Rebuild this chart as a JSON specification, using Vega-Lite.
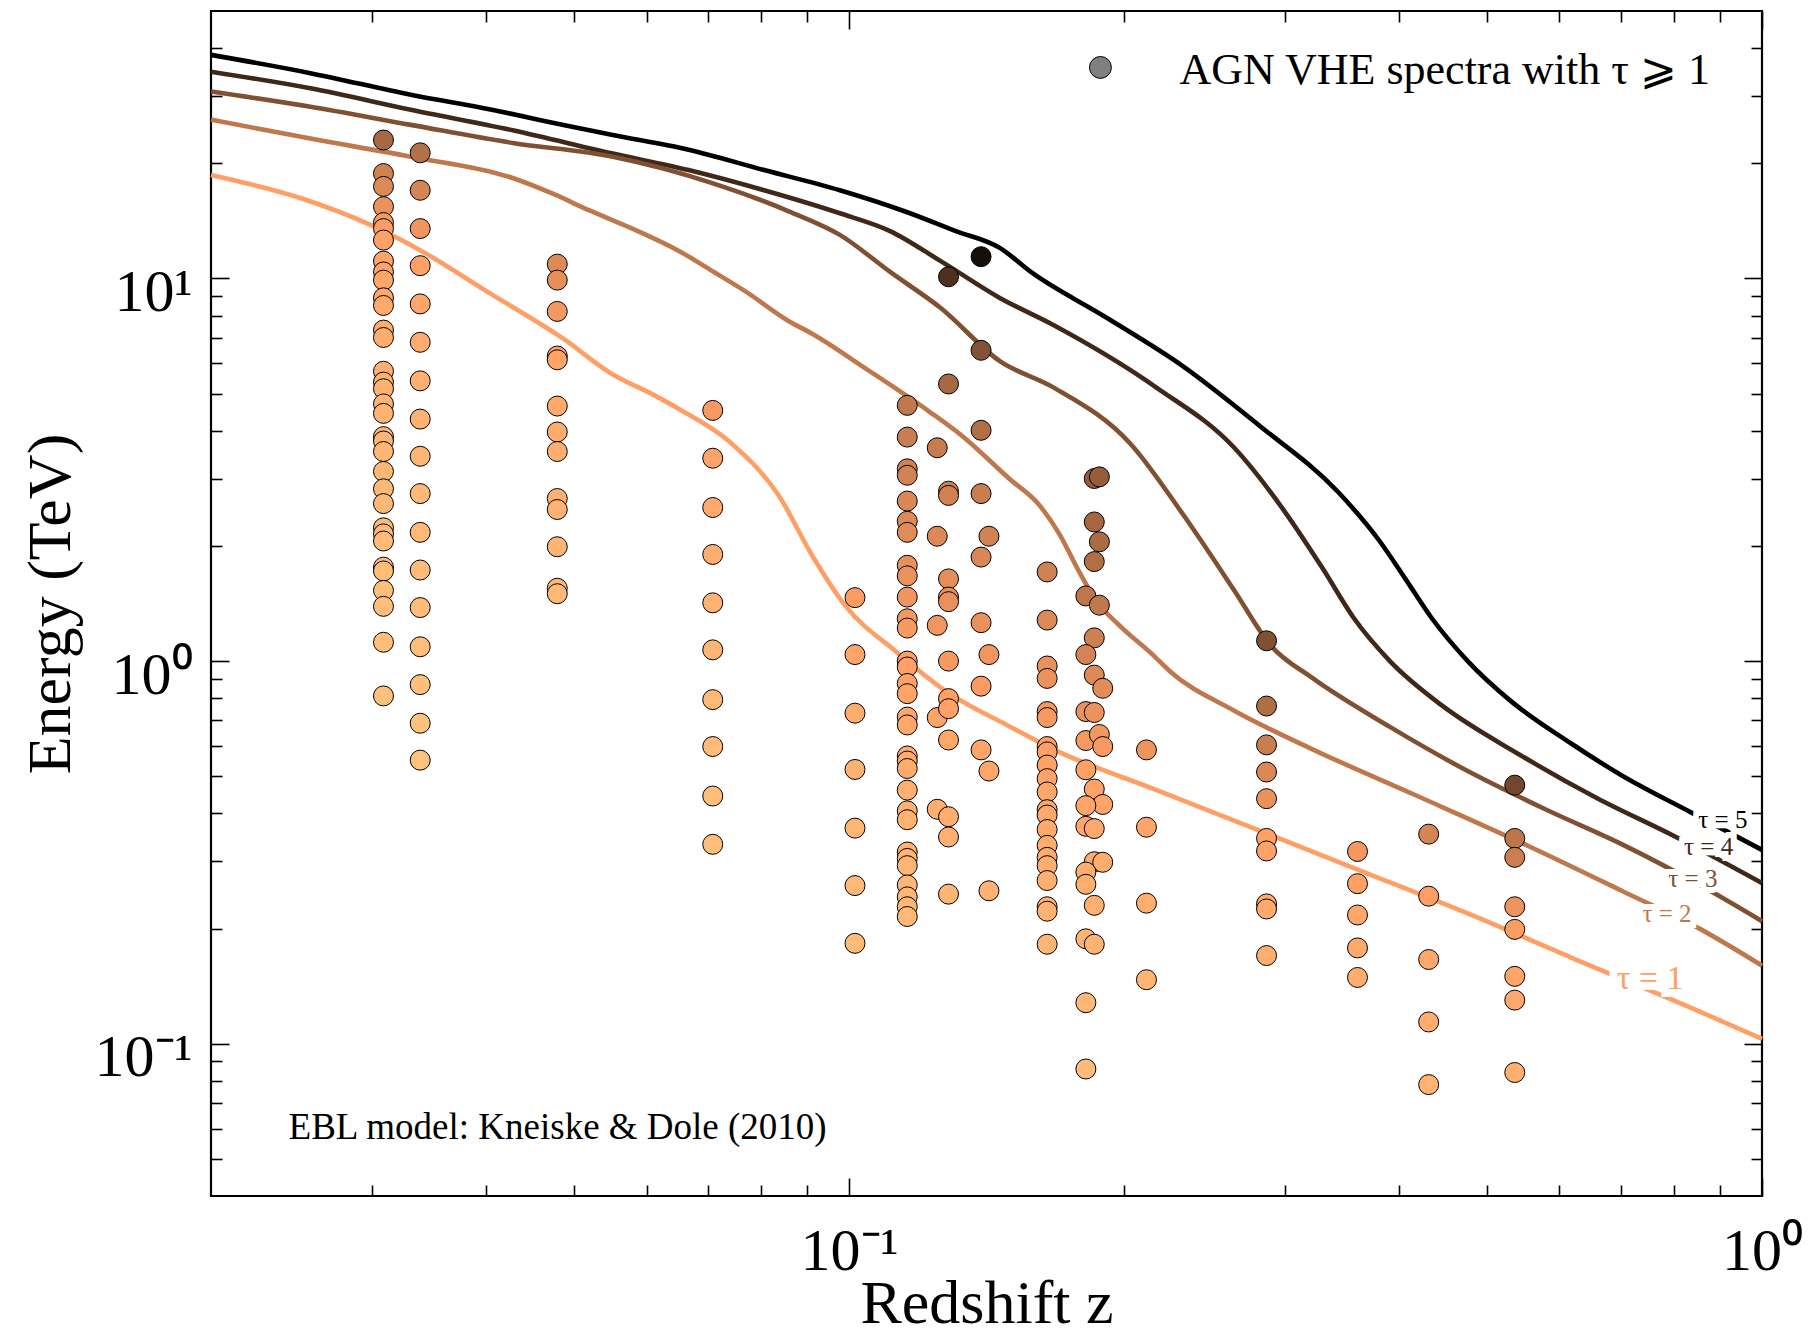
{
  "$schema": "https://vega.github.io/schema/vega-lite/v6.json",
  "width": 1551,
  "height": 1185,
  "autosize": {"type": "none"},
  "padding": {"left": 211, "top": 11, "right": 49, "bottom": 139},
  "background": "white",
  "config": {
    "view": {"stroke": "black", "strokeWidth": 2.2},
    "font": "Liberation Serif",
    "axis": {"grid": false, "domain": false, "tickColor": "black", "tickWidth": 1.6, "labels": false, "zindex": 1, "labelFlush": false, "labelOverlap": false, "labelBound": false, "labelFont": "Liberation Serif", "labelColor": "black", "titleFont": "Liberation Serif", "titleColor": "black", "titleFontWeight": "normal"}
  },
  "datasets": {
    "curves": [
      {"tau":5,"z":0.02,"E":38.4},{"tau":5,"z":0.0257,"E":34.4},{"tau":5,"z":0.0331,"E":30.2},{"tau":5,"z":0.0406,"E":27.6},{"tau":5,"z":0.0485,"E":25.2},{"tau":5,"z":0.0551,"E":23.7},{"tau":5,"z":0.0667,"E":21.7},{"tau":5,"z":0.0807,"E":19.2},{"tau":5,"z":0.0977,"E":17.0},{"tau":5,"z":0.1152,"E":14.96},{"tau":5,"z":0.1309,"E":13.3},{"tau":5,"z":0.1464,"E":12.0},{"tau":5,"z":0.1586,"E":10.35},{"tau":5,"z":0.1905,"E":7.95},{"tau":5,"z":0.2318,"E":5.91},{"tau":5,"z":0.282,"E":4.11},{"tau":5,"z":0.3431,"E":2.77},{"tau":5,"z":0.3811,"E":2.06},{"tau":5,"z":0.4068,"E":1.64},{"tau":5,"z":0.4342,"E":1.30},{"tau":5,"z":0.476,"E":1.0},{"tau":5,"z":0.5284,"E":0.793},{"tau":5,"z":0.618,"E":0.609},{"tau":5,"z":0.7045,"E":0.5},{"tau":5,"z":0.835,"E":0.403},{"tau":5,"z":1.0,"E":0.321},
      {"tau":4,"z":0.02,"E":34.7},{"tau":4,"z":0.0257,"E":31.4},{"tau":4,"z":0.0331,"E":27.6},{"tau":4,"z":0.0428,"E":24.4},{"tau":4,"z":0.0551,"E":21.2},{"tau":4,"z":0.0667,"E":19.2},{"tau":4,"z":0.0807,"E":17.0},{"tau":4,"z":0.0977,"E":14.8},{"tau":4,"z":0.1109,"E":13.3},{"tau":4,"z":0.126,"E":11.1},{"tau":4,"z":0.1464,"E":8.88},{"tau":4,"z":0.1672,"E":7.57},{"tau":4,"z":0.2173,"E":5.18},{"tau":4,"z":0.2642,"E":3.61},{"tau":4,"z":0.3011,"E":2.43},{"tau":4,"z":0.33,"E":1.75},{"tau":4,"z":0.3568,"E":1.30},{"tau":4,"z":0.3912,"E":1.0},{"tau":4,"z":0.4456,"E":0.767},{"tau":4,"z":0.5422,"E":0.57},{"tau":4,"z":0.6598,"E":0.438},{"tau":4,"z":0.8029,"E":0.348},{"tau":4,"z":1.0,"E":0.263},
      {"tau":3,"z":0.02,"E":30.8},{"tau":3,"z":0.0257,"E":28.1},{"tau":3,"z":0.0331,"E":25.2},{"tau":3,"z":0.0428,"E":22.6},{"tau":3,"z":0.0551,"E":20.8},{"tau":3,"z":0.0711,"E":17.7},{"tau":3,"z":0.086,"E":14.96},{"tau":3,"z":0.0977,"E":13.0},{"tau":3,"z":0.1109,"E":10.4},{"tau":3,"z":0.126,"E":8.37},{"tau":3,"z":0.1464,"E":6.07},{"tau":3,"z":0.1672,"E":5.2},{"tau":3,"z":0.2033,"E":3.7},{"tau":3,"z":0.2318,"E":2.43},{"tau":3,"z":0.2642,"E":1.53},{"tau":3,"z":0.2895,"E":1.10},{"tau":3,"z":0.3214,"E":0.905},{"tau":3,"z":0.3912,"E":0.673},{"tau":3,"z":0.476,"E":0.516},{"tau":3,"z":0.5789,"E":0.41},{"tau":3,"z":0.7045,"E":0.331},{"tau":3,"z":0.857,"E":0.259},{"tau":3,"z":1.0,"E":0.209},
      {"tau":2,"z":0.02,"E":26.0},{"tau":2,"z":0.0257,"E":23.2},{"tau":2,"z":0.0331,"E":20.8},{"tau":2,"z":0.0428,"E":18.3},{"tau":2,"z":0.0475,"E":16.6},{"tau":2,"z":0.0518,"E":15.1},{"tau":2,"z":0.0587,"E":13.3},{"tau":2,"z":0.0651,"E":11.8},{"tau":2,"z":0.0711,"E":10.4},{"tau":2,"z":0.077,"E":9.25},{"tau":2,"z":0.086,"E":7.72},{"tau":2,"z":0.0912,"E":7.16},{"tau":2,"z":0.1041,"E":5.83},{"tau":2,"z":0.1224,"E":4.49},{"tau":2,"z":0.1331,"E":3.87},{"tau":2,"z":0.1497,"E":3.0},{"tau":2,"z":0.1615,"E":2.56},{"tau":2,"z":0.1699,"E":2.15},{"tau":2,"z":0.1787,"E":1.71},{"tau":2,"z":0.1864,"E":1.44},{"tau":2,"z":0.1977,"E":1.24},{"tau":2,"z":0.215,"E":1.04},{"tau":2,"z":0.2244,"E":0.942},{"tau":2,"z":0.2642,"E":0.742},{"tau":2,"z":0.3214,"E":0.589},{"tau":2,"z":0.4175,"E":0.446},{"tau":2,"z":0.5422,"E":0.337},{"tau":2,"z":0.7045,"E":0.25},{"tau":2,"z":0.857,"E":0.199},{"tau":2,"z":1.0,"E":0.16},
      {"tau":1,"z":0.02,"E":18.65},{"tau":1,"z":0.0251,"E":16.2},{"tau":1,"z":0.0299,"E":13.8},{"tau":1,"z":0.034,"E":11.8},{"tau":1,"z":0.0401,"E":9.25},{"tau":1,"z":0.0485,"E":6.99},{"tau":1,"z":0.0551,"E":5.61},{"tau":1,"z":0.061,"E":4.97},{"tau":1,"z":0.0651,"E":4.56},{"tau":1,"z":0.0739,"E":3.75},{"tau":1,"z":0.0838,"E":2.7},{"tau":1,"z":0.0912,"E":1.88},{"tau":1,"z":0.0992,"E":1.39},{"tau":1,"z":0.1125,"E":1.06},{"tau":1,"z":0.1276,"E":0.835},{"tau":1,"z":0.1497,"E":0.676},{"tau":1,"z":0.1672,"E":0.589},{"tau":1,"z":0.2173,"E":0.46},{"tau":1,"z":0.282,"E":0.36},{"tau":1,"z":0.3664,"E":0.281},{"tau":1,"z":0.476,"E":0.219},{"tau":1,"z":0.618,"E":0.168},{"tau":1,"z":0.857,"E":0.121},{"tau":1,"z":1.0,"E":0.103}
    ],
    "pts": [
      {"z":0.0309,"E":23.0,"tau":2.37},{"z":0.0309,"E":18.8,"tau":1.73},{"z":0.0309,"E":17.4,"tau":1.56},{"z":0.0309,"E":15.4,"tau":1.32},{"z":0.0309,"E":14.0,"tau":1.12},{"z":0.0309,"E":13.5,"tau":1.05},{"z":0.0309,"E":12.6,"tau":0.968},{"z":0.0309,"E":11.1,"tau":0.894},{"z":0.0309,"E":10.4,"tau":0.857},{"z":0.0309,"E":9.9,"tau":0.83},{"z":0.0309,"E":8.9,"tau":0.776},{"z":0.0309,"E":8.5,"tau":0.745},{"z":0.0309,"E":7.33,"tau":0.684},{"z":0.0309,"E":7.01,"tau":0.662},{"z":0.0309,"E":5.72,"tau":0.582},{"z":0.0309,"E":5.36,"tau":0.555},{"z":0.0309,"E":5.15,"tau":0.545},{"z":0.0309,"E":4.70,"tau":0.506},{"z":0.0309,"E":4.44,"tau":0.496},{"z":0.0309,"E":3.86,"tau":0.451},{"z":0.0309,"E":3.76,"tau":0.438},{"z":0.0309,"E":3.53,"tau":0.426},{"z":0.0309,"E":3.13,"tau":0.399},{"z":0.0309,"E":2.82,"tau":0.37},{"z":0.0309,"E":2.58,"tau":0.338},{"z":0.0309,"E":2.23,"tau":0.321},{"z":0.0309,"E":2.15,"tau":0.302},{"z":0.0309,"E":2.06,"tau":0.302},{"z":0.0309,"E":1.76,"tau":0.26},{"z":0.0309,"E":1.72,"tau":0.26},{"z":0.0309,"E":1.53,"tau":0.235},{"z":0.0309,"E":1.39,"tau":0.235},{"z":0.0309,"E":1.12,"tau":0.206},{"z":0.0309,"E":0.811,"tau":0.172},
      {"z":0.0339,"E":21.3,"tau":2.18},{"z":0.0339,"E":17.0,"tau":1.66},{"z":0.0339,"E":13.5,"tau":1.25},{"z":0.0339,"E":10.8,"tau":0.944},{"z":0.0339,"E":8.58,"tau":0.812},{"z":0.0339,"E":6.81,"tau":0.705},{"z":0.0339,"E":5.40,"tau":0.607},{"z":0.0339,"E":4.29,"tau":0.516},{"z":0.0339,"E":3.43,"tau":0.451},{"z":0.0339,"E":2.74,"tau":0.385},{"z":0.0339,"E":2.17,"tau":0.338},{"z":0.0339,"E":1.73,"tau":0.282},{"z":0.0339,"E":1.38,"tau":0.26},{"z":0.0339,"E":1.09,"tau":0.206},{"z":0.0339,"E":0.868,"tau":0.172},{"z":0.0339,"E":0.688,"tau":0.16},{"z":0.0339,"E":0.551,"tau":0.126},
      {"z":0.0479,"E":10.9,"tau":1.52},{"z":0.0479,"E":9.9,"tau":1.40},{"z":0.0479,"E":8.2,"tau":1.17},{"z":0.0479,"E":6.27,"tau":0.92},{"z":0.0479,"E":6.13,"tau":0.91},{"z":0.0479,"E":4.64,"tau":0.758},{"z":0.0479,"E":3.97,"tau":0.684},{"z":0.0479,"E":3.53,"tau":0.631},{"z":0.0479,"E":2.66,"tau":0.526},{"z":0.0479,"E":2.49,"tau":0.506},{"z":0.0479,"E":1.99,"tau":0.438},{"z":0.0479,"E":1.55,"tau":0.37},{"z":0.0479,"E":1.50,"tau":0.37},
      {"z":0.0709,"E":4.52,"tau":1.13},{"z":0.0709,"E":3.39,"tau":0.899},{"z":0.0709,"E":2.52,"tau":0.745},{"z":0.0709,"E":1.90,"tau":0.615},{"z":0.0709,"E":1.42,"tau":0.516},{"z":0.0709,"E":1.07,"tau":0.426},{"z":0.0709,"E":0.793,"tau":0.355},{"z":0.0709,"E":0.598,"tau":0.302},{"z":0.0709,"E":0.444,"tau":0.235},{"z":0.0709,"E":0.332,"tau":0.206},
      {"z":0.1015,"E":1.465,"tau":1.07},{"z":0.1015,"E":1.04,"tau":0.857},{"z":0.1015,"E":0.731,"tau":0.684},{"z":0.1015,"E":0.521,"tau":0.545},{"z":0.1015,"E":0.366,"tau":0.438},{"z":0.1015,"E":0.259,"tau":0.355},{"z":0.1015,"E":0.183,"tau":0.282},
      {"z":0.1158,"E":4.66,"tau":1.97},{"z":0.1158,"E":3.85,"tau":1.85},{"z":0.1158,"E":3.18,"tau":1.73},{"z":0.1158,"E":3.06,"tau":1.70},{"z":0.1158,"E":2.62,"tau":1.60},{"z":0.1158,"E":2.32,"tau":1.53},{"z":0.1158,"E":2.17,"tau":1.49},{"z":0.1158,"E":1.78,"tau":1.36},{"z":0.1158,"E":1.67,"tau":1.32},{"z":0.1158,"E":1.47,"tau":1.24},{"z":0.1158,"E":1.29,"tau":1.16},{"z":0.1158,"E":1.22,"tau":1.12},{"z":0.1158,"E":1.0,"tau":0.995},{"z":0.1158,"E":0.965,"tau":0.972},{"z":0.1158,"E":0.874,"tau":0.915},{"z":0.1158,"E":0.822,"tau":0.879},{"z":0.1158,"E":0.714,"tau":0.8},{"z":0.1158,"E":0.681,"tau":0.776},{"z":0.1158,"E":0.565,"tau":0.691},{"z":0.1158,"E":0.548,"tau":0.677},{"z":0.1158,"E":0.524,"tau":0.655},{"z":0.1158,"E":0.46,"tau":0.599},{"z":0.1158,"E":0.406,"tau":0.555},{"z":0.1158,"E":0.385,"tau":0.536},{"z":0.1158,"E":0.317,"tau":0.474},{"z":0.1158,"E":0.305,"tau":0.462},{"z":0.1158,"E":0.292,"tau":0.451},{"z":0.1158,"E":0.26,"tau":0.413},{"z":0.1158,"E":0.242,"tau":0.399},{"z":0.1158,"E":0.228,"tau":0.385},{"z":0.1158,"E":0.215,"tau":0.37},
      {"z":0.1249,"E":3.61,"tau":1.89},{"z":0.1249,"E":2.12,"tau":1.55},{"z":0.1249,"E":1.24,"tau":1.22},{"z":0.1249,"E":0.712,"tau":0.879},{"z":0.1249,"E":0.41,"tau":0.615},
      {"z":0.1285,"E":10.1,"tau":3.79},{"z":0.1285,"E":5.30,"tau":2.38},{"z":0.1285,"E":2.78,"tau":1.76},{"z":0.1285,"E":2.71,"tau":1.74},{"z":0.1285,"E":1.64,"tau":1.43},{"z":0.1285,"E":1.47,"tau":1.36},{"z":0.1285,"E":1.43,"tau":1.34},{"z":0.1285,"E":1.0,"tau":1.12},{"z":0.1285,"E":0.798,"tau":0.977},{"z":0.1285,"E":0.751,"tau":0.944},{"z":0.1285,"E":0.622,"tau":0.835},{"z":0.1285,"E":0.392,"tau":0.615},{"z":0.1285,"E":0.347,"tau":0.573},{"z":0.1285,"E":0.246,"tau":0.451},
      {"z":0.1395,"E":11.4,"tau":4.66},{"z":0.1395,"E":6.49,"tau":2.94},{"z":0.1395,"E":4.01,"tau":2.21},{"z":0.1395,"E":2.74,"tau":1.84},{"z":0.1395,"E":1.87,"tau":1.60},{"z":0.1395,"E":1.26,"tau":1.34},{"z":0.1395,"E":0.86,"tau":1.10},{"z":0.1395,"E":0.586,"tau":0.857},
      {"z":0.1423,"E":2.12,"tau":1.70},{"z":0.1423,"E":1.04,"tau":1.23},{"z":0.1423,"E":0.516,"tau":0.8},{"z":0.1423,"E":0.251,"tau":0.506},
      {"z":0.1648,"E":1.71,"tau":1.76},{"z":0.1648,"E":1.28,"tau":1.55},{"z":0.1648,"E":0.971,"tau":1.35},{"z":0.1648,"E":0.901,"tau":1.30},{"z":0.1648,"E":0.738,"tau":1.15},{"z":0.1648,"E":0.712,"tau":1.13},{"z":0.1648,"E":0.598,"tau":1.0},{"z":0.1648,"E":0.579,"tau":0.977},{"z":0.1648,"E":0.535,"tau":0.929},{"z":0.1648,"E":0.493,"tau":0.884},{"z":0.1648,"E":0.455,"tau":0.835},{"z":0.1648,"E":0.409,"tau":0.783},{"z":0.1648,"E":0.396,"tau":0.764},{"z":0.1648,"E":0.363,"tau":0.726},{"z":0.1648,"E":0.33,"tau":0.684},{"z":0.1648,"E":0.307,"tau":0.647},{"z":0.1648,"E":0.292,"tau":0.631},{"z":0.1648,"E":0.267,"tau":0.59},{"z":0.1648,"E":0.228,"tau":0.536},{"z":0.1648,"E":0.222,"tau":0.526},{"z":0.1648,"E":0.182,"tau":0.462},
      {"z":0.1856,"E":3.0,"tau":2.65},{"z":0.188,"E":3.03,"tau":2.66},{"z":0.1856,"E":2.31,"tau":2.42},{"z":0.188,"E":2.05,"tau":2.31},{"z":0.1856,"E":1.82,"tau":2.21},{"z":0.1817,"E":1.48,"tau":2.02},{"z":0.188,"E":1.40,"tau":1.97},{"z":0.1856,"E":1.15,"tau":1.78},{"z":0.1817,"E":1.04,"tau":1.67},{"z":0.1856,"E":0.919,"tau":1.55},{"z":0.1896,"E":0.849,"tau":1.47},{"z":0.1817,"E":0.738,"tau":1.33},{"z":0.1856,"E":0.734,"tau":1.32},{"z":0.1817,"E":0.62,"tau":1.15},{"z":0.188,"E":0.643,"tau":1.19},{"z":0.1896,"E":0.598,"tau":1.12},{"z":0.1817,"E":0.52,"tau":0.986},{"z":0.1856,"E":0.463,"tau":0.915},{"z":0.1896,"E":0.422,"tau":0.863},{"z":0.1817,"E":0.419,"tau":0.857},{"z":0.1817,"E":0.37,"tau":0.789},{"z":0.1856,"E":0.365,"tau":0.783},{"z":0.1856,"E":0.299,"tau":0.691},{"z":0.1896,"E":0.298,"tau":0.684},{"z":0.1817,"E":0.281,"tau":0.662},{"z":0.1817,"E":0.261,"tau":0.631},{"z":0.1856,"E":0.23,"tau":0.582},{"z":0.1817,"E":0.188,"tau":0.506},{"z":0.1856,"E":0.182,"tau":0.496},{"z":0.1817,"E":0.128,"tau":0.399},{"z":0.1817,"E":0.0859,"tau":0.302},
      {"z":0.2117,"E":0.586,"tau":1.26},{"z":0.2117,"E":0.368,"tau":0.852},{"z":0.2117,"E":0.233,"tau":0.631},{"z":0.2117,"E":0.147,"tau":0.474},
      {"z":0.2866,"E":1.13,"tau":2.99},{"z":0.2866,"E":0.763,"tau":2.24},{"z":0.2866,"E":0.604,"tau":1.83},{"z":0.2866,"E":0.513,"tau":1.57},{"z":0.2866,"E":0.437,"tau":1.33},{"z":0.2866,"E":0.344,"tau":0.982},{"z":0.2866,"E":0.319,"tau":0.934},{"z":0.2866,"E":0.232,"tau":0.758},{"z":0.2866,"E":0.225,"tau":0.745},{"z":0.2866,"E":0.17,"tau":0.623},
      {"z":0.3605,"E":0.318,"tau":1.18},{"z":0.3605,"E":0.262,"tau":0.949},{"z":0.3605,"E":0.217,"tau":0.835},{"z":0.3605,"E":0.178,"tau":0.739},{"z":0.3605,"E":0.149,"tau":0.655},
      {"z":0.4314,"E":0.353,"tau":1.66},{"z":0.4314,"E":0.243,"tau":1.02},{"z":0.4314,"E":0.166,"tau":0.789},{"z":0.4314,"E":0.114,"tau":0.615},{"z":0.4314,"E":0.0782,"tau":0.485},
      {"z":0.536,"E":0.474,"tau":3.21},{"z":0.536,"E":0.344,"tau":2.04},{"z":0.536,"E":0.307,"tau":1.81},{"z":0.536,"E":0.228,"tau":1.28},{"z":0.536,"E":0.199,"tau":1.04},{"z":0.536,"E":0.15,"tau":0.841},{"z":0.536,"E":0.13,"tau":0.77},{"z":0.536,"E":0.0841,"tau":0.582}
    ],
    "taulabels": [
      {"tau":5,"z":0.906,"E":0.385,"label":"τ = 5"},
      {"tau":4,"z":0.874,"E":0.326,"label":"τ = 4"},
      {"tau":3,"z":0.84,"E":0.269,"label":"τ = 3"},
      {"tau":2,"z":0.787,"E":0.218,"label":"τ = 2"},
      {"tau":1,"z":0.754,"E":0.148,"label":"τ = 1"}
    ],
    "legendpt": [{"z":0.1885,"E":35.6}],
    "notes": [
      {"kind":"legend","z":0.2301,"E":34.9,"text":"AGN VHE spectra with τ ⩾ 1"},
      {"kind":"ebl","z":0.02432,"E":0.0603,"text":"EBL model: Kneiske & Dole (2010)"}
    ]
  },
  "resolve": {"axis": {"x": "independent", "y": "independent"}},
  "layer": [
    {
      "data": {"name": "curves"},
      "mark": {"type": "line", "strokeWidth": 4.6, "interpolate": "monotone"},
      "encoding": {
        "x": {"field": "z", "type": "quantitative", "scale": {"type": "log", "domain": [0.02, 1], "nice": false},
              "axis": {"orient": "bottom", "values": [0.1, 1], "ticks": false, "labels": true, "labelExpr": "datum.value < 0.5 ? '10⁻¹' : '10⁰'", "labelFontSize": 60, "labelPadding": 26, "labelAlign": "center", "labelBaseline": "top",
                       "title": "Redshift z", "titleFontSize": 62, "titleX": 775.5, "titleY": 126, "titleBaseline": "alphabetic", "titleAlign": "center", "titleAnchor": null}},
        "y": {"field": "E", "type": "quantitative", "scale": {"type": "log", "domain": [0.04, 50], "nice": false},
              "axis": {"orient": "left", "values": [0.1, 1, 10], "ticks": false, "labels": true, "labelExpr": "datum.value < 0.5 ? '10⁻¹' : datum.value < 5 ? '10⁰' : '10¹'", "labelFontSize": 60, "labelPadding": 19, "labelAlign": "right", "labelBaseline": "alphabetic", "labelOffset": 32,
                       "title": "Energy (TeV)", "titleFontSize": 62, "titleX": -142, "titleY": 592.5, "titleAngle": -90, "titleBaseline": "alphabetic", "titleAlign": "center", "titleAnchor": null}},
        "color": {"field": "tau", "type": "quantitative", "scale": {"type": "linear", "domain": [0, 1, 5], "range": ["#FFC77F", "#FF9F65", "#000000"], "interpolate": "rgb"}, "legend": null},
        "detail": {"field": "tau", "type": "nominal"}
      }
    },
    {
      "data": {"name": "taulabels"},
      "transform": [{"filter": "datum.tau > 1"}],
      "mark": {"type": "text", "fontSize": 25, "font": "Liberation Serif", "fill": "white", "stroke": "white", "strokeWidth": 12, "align": "center", "baseline": "middle"},
      "encoding": {
        "x": {"field": "z", "type": "quantitative", "scale": {"type": "log", "domain": [0.02, 1], "nice": false},
              "axis": {"orient": "bottom", "values": [0.1, 1], "labels": false, "tickSize": -18, "title": null}},
        "y": {"field": "E", "type": "quantitative", "scale": {"type": "log", "domain": [0.04, 50], "nice": false},
              "axis": {"orient": "left", "values": [0.1, 1, 10], "labels": false, "tickSize": -18, "title": null}},
        "text": {"field": "label"}
      }
    },
    {
      "data": {"name": "taulabels"},
      "transform": [{"filter": "datum.tau == 1"}],
      "mark": {"type": "text", "fontSize": 34, "font": "Liberation Serif", "fill": "white", "stroke": "white", "strokeWidth": 16, "align": "center", "baseline": "middle"},
      "encoding": {
        "x": {"field": "z", "type": "quantitative", "scale": {"type": "log", "domain": [0.02, 1], "nice": false},
              "axis": {"orient": "bottom", "values": [0.03,0.04,0.05,0.06,0.07,0.08,0.09,0.2,0.3,0.4,0.5,0.6,0.7,0.8,0.9], "labels": false, "tickSize": -11, "title": null}},
        "y": {"field": "E", "type": "quantitative", "scale": {"type": "log", "domain": [0.04, 50], "nice": false},
              "axis": {"orient": "left", "values": [0.05,0.06,0.07,0.08,0.09,0.2,0.3,0.4,0.5,0.6,0.7,0.8,0.9,2,3,4,5,6,7,8,9,20,30,40], "labels": false, "tickSize": -11, "title": null}},
        "text": {"field": "label"}
      }
    },
    {
      "data": {"name": "taulabels"},
      "transform": [{"filter": "datum.tau > 1"}],
      "mark": {"type": "text", "fontSize": 25, "font": "Liberation Serif", "align": "center", "baseline": "middle"},
      "encoding": {
        "x": {"field": "z", "type": "quantitative", "scale": {"type": "log", "domain": [0.02, 1], "nice": false},
              "axis": {"orient": "top", "values": [0.1, 1], "labels": false, "tickSize": -18, "title": null}},
        "y": {"field": "E", "type": "quantitative", "scale": {"type": "log", "domain": [0.04, 50], "nice": false},
              "axis": {"orient": "right", "values": [0.1, 1, 10], "labels": false, "tickSize": -18, "title": null}},
        "text": {"field": "label"},
        "color": {"field": "tau", "type": "quantitative", "legend": null}
      }
    },
    {
      "data": {"name": "taulabels"},
      "transform": [{"filter": "datum.tau == 1"}],
      "mark": {"type": "text", "fontSize": 34, "font": "Liberation Serif", "align": "center", "baseline": "middle"},
      "encoding": {
        "x": {"field": "z", "type": "quantitative", "scale": {"type": "log", "domain": [0.02, 1], "nice": false},
              "axis": {"orient": "top", "values": [0.03,0.04,0.05,0.06,0.07,0.08,0.09,0.2,0.3,0.4,0.5,0.6,0.7,0.8,0.9], "labels": false, "tickSize": -11, "title": null}},
        "y": {"field": "E", "type": "quantitative", "scale": {"type": "log", "domain": [0.04, 50], "nice": false},
              "axis": {"orient": "right", "values": [0.05,0.06,0.07,0.08,0.09,0.2,0.3,0.4,0.5,0.6,0.7,0.8,0.9,2,3,4,5,6,7,8,9,20,30,40], "labels": false, "tickSize": -11, "title": null}},
        "text": {"field": "label"},
        "color": {"field": "tau", "type": "quantitative", "legend": null}
      }
    },
    {
      "data": {"name": "pts"},
      "mark": {"type": "point", "shape": "circle", "filled": true, "size": 400, "stroke": "black", "strokeWidth": 1, "opacity": 1},
      "encoding": {
        "x": {"field": "z", "type": "quantitative", "scale": {"type": "log", "domain": [0.02, 1], "nice": false}, "axis": null},
        "y": {"field": "E", "type": "quantitative", "scale": {"type": "log", "domain": [0.04, 50], "nice": false}, "axis": null},
        "color": {"field": "tau", "type": "quantitative", "legend": null}
      }
    },
    {
      "data": {"name": "legendpt"},
      "mark": {"type": "point", "shape": "circle", "filled": true, "size": 480, "fill": "#808080", "stroke": "black", "strokeWidth": 1, "opacity": 1},
      "encoding": {
        "x": {"field": "z", "type": "quantitative", "scale": {"type": "log", "domain": [0.02, 1], "nice": false}, "axis": null},
        "y": {"field": "E", "type": "quantitative", "scale": {"type": "log", "domain": [0.04, 50], "nice": false}, "axis": null}
      }
    },
    {
      "data": {"name": "notes"},
      "transform": [{"filter": "datum.kind == 'legend'"}],
      "mark": {"type": "text", "fontSize": 44, "font": "Liberation Serif", "align": "left", "baseline": "middle", "color": "black"},
      "encoding": {
        "x": {"field": "z", "type": "quantitative", "scale": {"type": "log", "domain": [0.02, 1], "nice": false}, "axis": null},
        "y": {"field": "E", "type": "quantitative", "scale": {"type": "log", "domain": [0.04, 50], "nice": false}, "axis": null},
        "text": {"field": "text"}
      }
    },
    {
      "data": {"name": "notes"},
      "transform": [{"filter": "datum.kind == 'ebl'"}],
      "mark": {"type": "text", "fontSize": 37, "font": "Liberation Serif", "align": "left", "baseline": "middle", "color": "black"},
      "encoding": {
        "x": {"field": "z", "type": "quantitative", "scale": {"type": "log", "domain": [0.02, 1], "nice": false}, "axis": null},
        "y": {"field": "E", "type": "quantitative", "scale": {"type": "log", "domain": [0.04, 50], "nice": false}, "axis": null},
        "text": {"field": "text"}
      }
    }
  ]
}
